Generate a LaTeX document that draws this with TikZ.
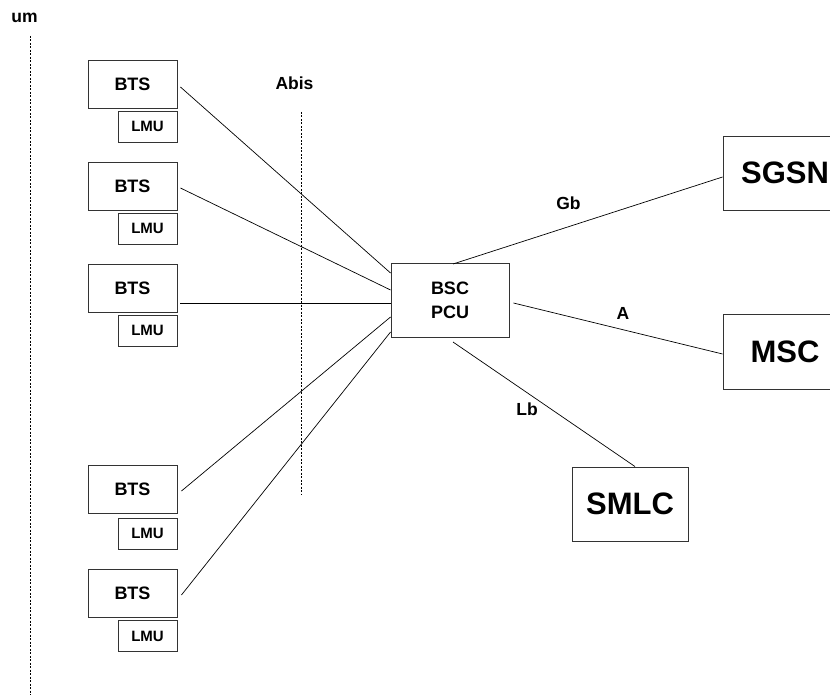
\documentclass[tikz,border=0pt]{standalone}
\usepackage{fontspec}
\setmainfont{Liberation Sans}
\usetikzlibrary{calc}
\begin{document}
\begin{tikzpicture}[x=1pt,y=-1pt,
  box/.style={draw=black!80, line width=0.9pt, rectangle, inner sep=0pt,
    font=\bfseries\fontsize{18}{20}\selectfont},
  bts/.style={box, minimum width=89pt, minimum height=48pt},
  lmu/.style={box, minimum width=59pt, minimum height=31pt,
    font=\bfseries\fontsize{15}{17}\selectfont},
  core/.style={box, font=\bfseries\fontsize{31}{36}\selectfont},
  lbl/.style={inner sep=0pt, font=\bfseries\fontsize{17.5}{20}\selectfont},
  link/.style={line width=0.7pt},
  iface/.style={line width=0.8pt, dash pattern=on 2pt off 1.5pt}]
\useasboundingbox (0,0) rectangle (830,695);

% interface markers
\node[lbl] (um) at (24.5,17.5) {um};
\draw[iface] (30,36) -- (30,695);
\node[lbl] (abis) at (294.5,83.5) {Abis};
\draw[iface] (301,112) -- (301,494);

% base stations with their location measurement units
\node[bts] (bts1) at (132.5,84)    {BTS};
\node[lmu] (lmu1) at (147.5,126.5) {LMU};
\node[bts] (bts2) at (132.5,186.5) {BTS};
\node[lmu] (lmu2) at (147.5,228.5) {LMU};
\node[bts] (bts3) at (132.5,288)   {BTS};
\node[lmu] (lmu3) at (147.5,330.5) {LMU};
\node[bts] (bts4) at (132.5,489.5) {BTS};
\node[lmu] (lmu4) at (147.5,533.5) {LMU};
\node[bts] (bts5) at (132.5,593.5) {BTS};
\node[lmu] (lmu5) at (147.5,636)   {LMU};

% controller
\node[box, minimum width=118pt, minimum height=74pt, align=center,
  font=\bfseries\fontsize{18}{24}\selectfont] (bsc) at (450,300) {BSC\\PCU};

% core network elements
\node[core, minimum width=124pt, minimum height=74pt] (sgsn) at (785,173) {SGSN};
\node[core, minimum width=124pt, minimum height=75pt] (msc)  at (785,351.5) {MSC};
\node[core, minimum width=116pt, minimum height=74pt] (smlc) at (630,504) {SMLC};

% Abis links
\draw[link] (bts1.east |- 0,87)  ++(3,0) -- (bsc.west |- 0,273);
\draw[link] (bts2.east |- 0,188) ++(3,0) -- (bsc.west |- 0,290);
\draw[link] (bts3.east |- 0,303) ++(3,0) -- (bsc.west |- 0,303);
\draw[link] (bts4.east |- 0,491) ++(4,0) -- (bsc.west |- 0,317);
\draw[link] (bts5.east |- 0,595) ++(4,0) -- (bsc.west |- 0,332);

% core interfaces
\draw[link] (453,264) coordinate (gbs) (gbs) -- (sgsn.west |- 0,177);
\draw[link] ($(bsc.east |- 0,303)+(4,0)$) -- (msc.west |- 0,354);
\draw[link] (453,342) coordinate (lbs) (lbs) -- (smlc.north -| 635,0);

\node[lbl] (gb) at (568.5,203.5) {Gb};
\node[lbl] (a)  at (623,313.5)   {A};
\node[lbl] (lb) at (527,409)     {Lb};
\end{tikzpicture}
\end{document}
